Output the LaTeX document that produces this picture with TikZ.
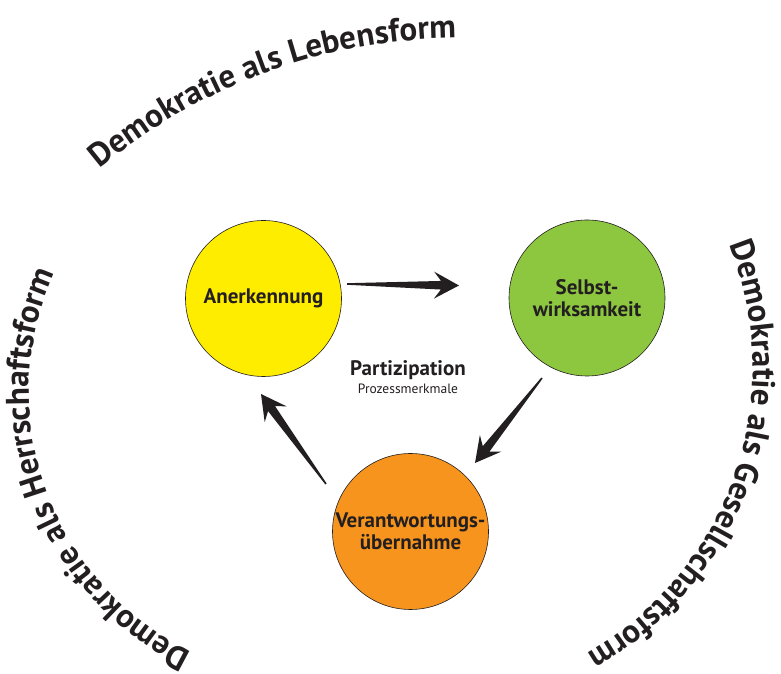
\documentclass[tikz,border=0pt]{standalone}
\usepackage{fontspec}
\setmainfont{PT Sans}
\usetikzlibrary{calc,decorations.text}
\definecolor{ink}{HTML}{231F20}
\definecolor{cyellow}{HTML}{FFED00}
\definecolor{cgreen}{HTML}{8DC63F}
\definecolor{corange}{HTML}{F7941D}
\newcommand\curvefont{\fontsize{33}{33}\selectfont\bfseries}
% tapered arrow from #1 (tail) to #2 (tip)
\newcommand\swoosh[2]{%
  \fill[ink] ($(#1)!0.8pt!90:(#2)$)
    -- ($(#2)!18pt!(#1)!4.3pt!90:(#2)$)
    -- ($(#2)!25pt!(#1)!13.5pt!90:(#2)$)
    -- (#2)
    -- ($(#2)!25pt!(#1)!13.5pt!-90:(#2)$)
    -- ($(#2)!18pt!(#1)!4.3pt!-90:(#2)$)
    -- ($(#1)!0.8pt!-90:(#2)$) -- cycle;}
\begin{document}
\begin{tikzpicture}[x=1pt,y=1pt,
  bubble/.style={circle, draw=ink, line width=0.6pt, minimum size=156pt, inner sep=0pt,
    text=ink, font=\fontsize{21}{22}\selectfont\bfseries, align=center},
  curved/.style={decorate, decoration={text along path, text align=left, text color=ink, text={#1}}}]
\useasboundingbox (0,0) rectangle (781,674);
% circles
\node[bubble, fill=cyellow] (anerk) at (263.5,375.5) {Anerkennung};
\node[bubble, fill=cgreen] (selbst) at (587,376) {Selbst-\\wirksamkeit};
\node[bubble, fill=corange] (verant) at (410.5,142.5) {Verantwortungs-\\übernahme};
% centre labels
\node[anchor=base, text=ink, font=\fontsize{21}{21}\selectfont\bfseries, inner sep=0pt] (part) at (408,298) {Partizipation};
\node[anchor=base, text=ink, font=\fontsize{13.5}{13.5}\selectfont, inner sep=0pt] (proz) at (408,280) {Prozessmerkmale};
% arrow end points
\coordinate (a1s) at (347,390);
\coordinate (a1e) at (459,388.5);
\coordinate (a2s) at (542,296);
\coordinate (a2e) at (475,211);
\coordinate (a3s) at (326,190);
\coordinate (a3e) at (261,280);
\swoosh{a1s}{a1e}
\swoosh{a2s}{a2e}
\swoosh{a3s}{a3e}
% curved texts
\path[curved={|\curvefont|Demokratie als Lebensform}]
  (460,76) ++(130:560) arc[start angle=130, end angle=80, radius=560];
\path[curved={|\curvefont|Demokratie als Gesellschaftsform}]
  (424,306) ++(22:329) arc[start angle=22, end angle=-82, radius=329];
\path[curved={|\curvefont|Demokratie als Herrschaftsform}]
  (319,282) ++(244:290) arc[start angle=244, end angle=130, radius=290];
\end{tikzpicture}
\end{document}
